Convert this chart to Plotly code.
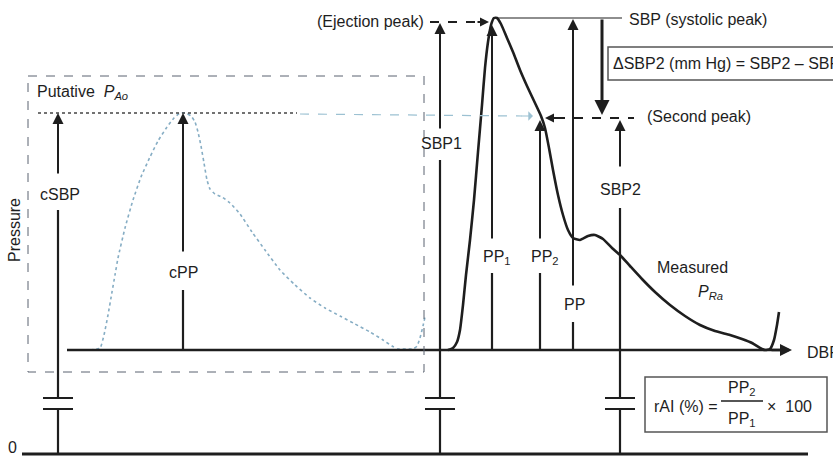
import plotly.graph_objects as go

# ---------------- data (time in px-like units, pressure in arbitrary units, 0 = zero line) -------------
measured_t = [448, 453, 457, 460, 463, 466, 470, 474, 478, 482, 485, 488, 491, 494, 497, 501, 507, 513,
              520, 527, 535, 541, 545, 549, 553, 558, 563, 568, 573, 580, 588, 595, 603, 612, 620, 630,
              642, 655, 670, 685, 700, 715, 730, 742, 752, 760, 765, 770, 774, 777, 779]
measured_p = [104, 106, 112, 124, 149, 179, 214, 254, 302, 349, 386, 412, 429, 436, 436, 430, 416, 402,
              384, 368, 351, 338, 326, 306, 284, 259, 239, 224, 216, 214, 218, 219, 215, 206, 199, 188,
              175, 162, 149, 138, 129, 123, 119, 115, 111, 106, 104, 105, 114, 129, 142]

putative_t = [90, 100, 104, 108, 112, 115, 118, 125, 133, 141, 150, 158, 167, 174, 180, 186, 191, 195,
              198, 201, 204, 207, 210, 215, 222, 230, 240, 252, 265, 280, 295, 310, 325, 340, 355, 370,
              383, 392, 398, 406, 413, 417, 420, 423, 425]
putative_p = [104, 106, 119, 139, 162, 179, 196, 226, 254, 277, 297, 313, 327, 336, 341, 341, 338, 332,
              322, 308, 291, 274, 265, 260, 257, 251, 240, 222, 204, 184, 169, 156, 146, 138, 130, 122,
              114, 108, 105, 105, 105, 108, 116, 128, 137]

ZERO = 0
DBP = 104
SBP = 436
EJECTION = 432
SECOND_PEAK = 336
CSBP = 341

INK = "#1e1e1e"
BLUE = "#86adc4"
BOX = "#5a6270"
FONT = "Liberation Sans, Arial, sans-serif"
FS = 16

fig = go.Figure()
fig.add_trace(go.Scatter(x=putative_t, y=putative_p, mode="lines",
                         line=dict(color=BLUE, width=1.6, dash="dot", shape="spline", smoothing=0.5),
                         hoverinfo="skip", showlegend=False))
fig.add_trace(go.Scatter(x=measured_t, y=measured_p, mode="lines",
                         line=dict(color=INK, width=2.6, shape="spline", smoothing=0.5),
                         hoverinfo="skip", showlegend=False))

shapes = []
ann = []


def seg(x0, y0, x1, y1, width=2.2, dash=None, color=INK):
    shapes.append(dict(type="line", x0=x0, y0=y0, x1=x1, y1=y1, xref="x", yref="y",
                       line=dict(color=color, width=width, dash=dash), layer="above"))


def arrow(xt, yt, xs, ys, width=2.0, color=INK, size=1.1, head=2):
    ann.append(dict(x=xt, y=yt, ax=xs, ay=ys, xref="x", yref="y", axref="x", ayref="y",
                    text="", showarrow=True, arrowhead=head, arrowsize=size, arrowwidth=width,
                    arrowcolor=color))


def label(x, y, text, anchor="center", size=FS, color=INK, yanchor="middle"):
    ann.append(dict(x=x, y=y, xref="x", yref="y", text=text, showarrow=False,
                    xanchor=anchor, yanchor=yanchor, font=dict(family=FONT, size=size, color=color)))


def brk(x, half=15):
    # axis-break marks on a vertical line
    seg(x - half, 56, x + half, 56, width=2)
    seg(x - half, 45, x + half, 45, width=2)


# zero line and DBP baseline
seg(22, ZERO, 808, ZERO, width=3)
seg(67, DBP, 782, DBP, width=2.4)
arrow(792, DBP, 770, DBP, width=2.4, size=1.0)

# putative box
shapes.append(dict(type="rect", x0=28, x1=424, y0=454 - 76, y1=454 - 372, xref="x", yref="y",
                   line=dict(color=BOX, width=1, dash="dash")))

# cSBP dotted level & light-blue dashed transfer arrow
seg(38, CSBP, 297, CSBP, width=1.6, dash="dot", color="#444")
seg(300, CSBP - 1, 522, SECOND_PEAK + 2, width=1.2, dash="dash", color="#9cc1d2")
arrow(533, SECOND_PEAK + 2, 520, SECOND_PEAK + 2, width=1.2, color="#9cc1d2", size=1.3, head=1)

# cSBP arrow (x=58)
arrow(58, CSBP, 58, 454 - 175)
seg(58, 454 - 210, 58, 56)
seg(58, 45, 58, ZERO)
brk(58)

# cPP arrow
arrow(183, CSBP, 183, 454 - 253)
seg(183, 454 - 290, 183, DBP)

# SBP1 arrow
arrow(440, EJECTION - 1, 440, 454 - 130)
seg(440, 454 - 160, 440, 56)
seg(440, 45, 440, ZERO)
brk(440)

# ejection peak dashed arrow
seg(430, EJECTION, 478, EJECTION, width=1.8, dash="dash")
arrow(489, EJECTION, 476, EJECTION, width=1.8, size=1.0)

# PP1, PP2, PP arrows
arrow(492, EJECTION - 3, 492, 454 - 240)
seg(492, 454 - 273, 492, DBP)
arrow(540, SECOND_PEAK - 2, 540, 454 - 240)
seg(540, 454 - 273, 540, DBP)
arrow(573, SBP - 1, 573, 454 - 287)
seg(573, 454 - 322, 573, DBP)

# SBP line
seg(493, SBP, 622, SBP, width=1.2)

# SBP2 arrow
arrow(620, SECOND_PEAK - 2, 620, 454 - 168)
seg(620, 454 - 208, 620, 56)
seg(620, 45, 620, ZERO)
brk(620)

# delta arrow down
arrow(602, SECOND_PEAK + 3, 602, SBP, width=3, size=1.0)

# second peak dashed
seg(556, SECOND_PEAK, 634, SECOND_PEAK, width=1.8, dash="dash")
arrow(545, SECOND_PEAK, 560, SECOND_PEAK, width=1.8, size=1.0)

# formula boxes
shapes.append(dict(type="rect", x0=608, x1=845, y0=454 - 47, y1=454 - 80, xref="x", yref="y",
                   line=dict(color="#555", width=1.5)))
shapes.append(dict(type="rect", x0=645, x1=827, y0=454 - 377, y1=454 - 432, xref="x", yref="y",
                   line=dict(color="#555", width=1.5)))
seg(721, 454 - 401, 763, 454 - 401, width=1.6)

# labels
label(14, 454 - 230, "Pressure")
ann[-1]["textangle"] = -90
label(12, 454 - 447, "0")
label(35, 454 - 92, "Putative  <i>P</i><sub><i>Ao</i></sub>", anchor="left")
label(60, 454 - 194, "cSBP")
label(183, 454 - 272, "cPP")
label(441, 454 - 143, "SBP1")
label(497, 454 - 257, "PP<sub>1</sub>")
label(545, 454 - 257, "PP<sub>2</sub>")
label(574, 454 - 304, "PP")
label(620, 454 - 189, "SBP2")
label(692, 454 - 267, "Measured")
label(710, 454 - 292, "<i>P</i><sub><i>Ra</i></sub>")
label(426, 454 - 21, "(Ejection peak)", anchor="right")
label(627, 454 - 19, "SBP (systolic peak)", anchor="left")
label(645, 454 - 116, "(Second peak)", anchor="left")
label(611, 454 - 63, "ΔSBP2 (mm Hg) = SBP2 – SBP1", anchor="left")
label(805, 454 - 352, "DBP", anchor="left")
label(652, 454 - 406, "rAI (%) =", anchor="left")
label(742, 454 - 388, "PP<sub>2</sub>")
label(742, 454 - 419, "PP<sub>1</sub>")
label(765, 454 - 406, "×  100", anchor="left")

fig.update_layout(
    width=833, height=457, margin=dict(l=0, r=0, t=0, b=0),
    paper_bgcolor="white", plot_bgcolor="white",
    xaxis=dict(range=[0, 833], visible=False, fixedrange=True),
    yaxis=dict(range=[-3, 454], visible=False, fixedrange=True),
    shapes=shapes, annotations=ann, showlegend=False,
    font=dict(family=FONT, color=INK),
)
fig.write_html("out.html", config={"displayModeBar": False},
               post_script="document.body.style.margin='0';document.body.style.overflow='hidden';")
